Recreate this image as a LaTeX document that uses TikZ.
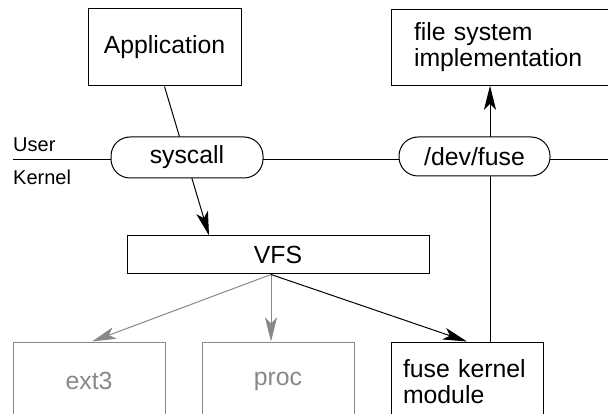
\documentclass[tikz,border=0pt]{standalone}
\usepackage{fontspec}
\setmainfont{Liberation Sans}
\usetikzlibrary{arrows.meta,backgrounds}
\definecolor{fsgray}{RGB}{136,136,136}

\begin{document}
\begin{tikzpicture}[x=1pt, y=-1pt,
    box/.style={draw, line width=1pt, rectangle, inner sep=0pt,
        font=\fontsize{24.8}{26}\selectfont},
    pill/.style={box, fill=white, rounded corners=19pt},
    grey/.style={draw=fsgray, text=fsgray},
    label/.style={anchor=base west, inner sep=0pt, font=\fontsize{20}{21}\selectfont},
    arr/.style={line width=1pt, -{Stealth[length=24pt, width=12pt, inset=6pt]}}
]
    \useasboundingbox (0,0) rectangle (608,414);
    \clip (0,0) rectangle (608,414);

    % user space
    \node[box, minimum width=153pt, minimum height=77pt] (app) at (164.5,47.5) {Application};
    \node[box, minimum width=240pt, minimum height=76pt, text width=194pt,
        inner xsep=23pt, align=left] (fsimpl) at (511,47.25) {file system\\implementation};

    % boundary
    \coordinate (lineL) at (13,160);
    \coordinate (lineR) at (608,160);
    \node[label] (user) at (13,152) {User};
    \node[label] (kernel) at (13,185) {Kernel};
    \node[pill, minimum width=152pt, minimum height=41pt] (syscall) at (187,157.5) {syscall};
    \node[pill, minimum width=151pt, minimum height=39pt] (devfuse) at (474.5,156.5) {/dev/fuse};

    % kernel
    \node[box, minimum width=302pt, minimum height=38pt] (vfs) at (278,255) {VFS};
    \node[box, grey, minimum width=152pt, minimum height=78pt] (ext3) at (89,381) {ext3};
    \node[box, grey, minimum width=152pt, minimum height=78pt] (proc) at (278,381) {proc};
    \node[box, minimum width=152pt, minimum height=80pt, text width=128pt,
        inner xsep=12pt, align=left] (fkm) at (467,382) {fuse kernel\\module};

    \begin{scope}[on background layer]
        \draw[line width=1pt] (lineL) -- (lineR);
        \draw[arr] (app.south) -- ([xshift=-69pt]vfs.north);
        \draw[arr] ([xshift=23pt]fkm.north) -- ([xshift=23pt]fkm.north |- fsimpl.south);
    \end{scope}

    \draw[arr, fsgray] ([xshift=-7pt]vfs.south) -- ([xshift=3pt]ext3.north);
    \draw[arr, fsgray] ([xshift=-7pt]vfs.south) -- ([xshift=-7pt]proc.north);
    \draw[arr] ([xshift=-7pt]vfs.south) -- (fkm.north);
\end{tikzpicture}
\end{document}
